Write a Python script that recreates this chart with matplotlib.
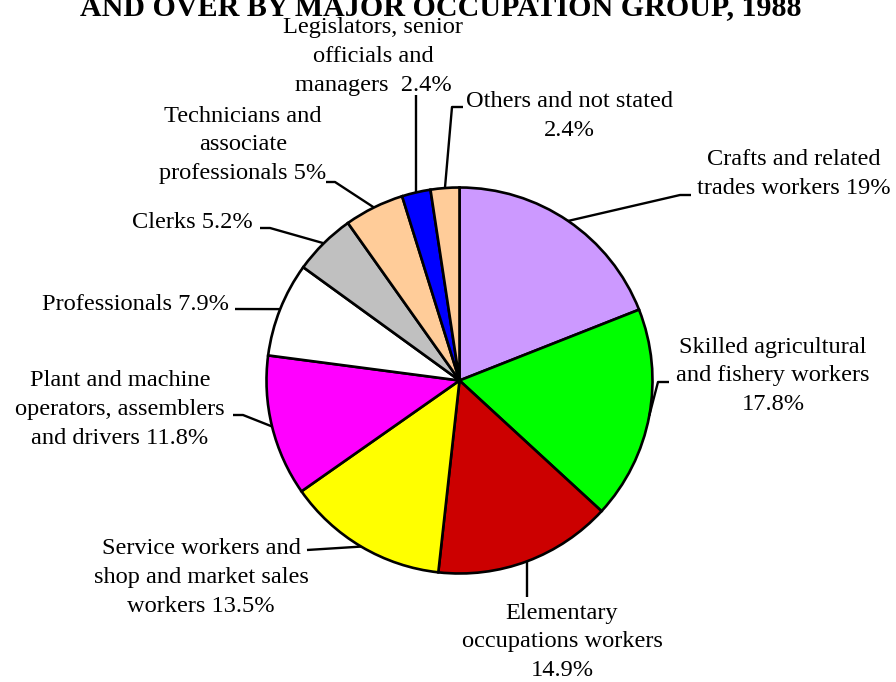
import matplotlib
matplotlib.use("Agg")
import matplotlib.pyplot as plt
import numpy as np

W, H = 896, 682

categories = [
    "Crafts and related\ntrades workers",
    "Skilled agricultural\nand fishery workers\n",
    "Elementary\noccupations workers\n",
    "Service workers and\nshop and market sales\nworkers",
    "Plant and machine\noperators, assemblers\nand drivers",
    "Professionals",
    "Clerks",
    "Technicians and\nassociate\nprofessionals",
    "Legislators, senior\nofficials and\nmanagers ",
    "Others and not stated\n",
]
values = [19, 17.8, 14.9, 13.5, 11.8, 7.9, 5.2, 5, 2.4, 2.4]
colors = ["#CC99FF", "#00FF00", "#CC0000", "#FFFF00", "#FF00FF",
          "#FFFFFF", "#C0C0C0", "#FFCC99", "#0000FF", "#FFCC99"]
title = "AND OVER BY MAJOR OCCUPATION GROUP, 1988"

# layout (pixel coordinates, y downward)
label_pos = [(794, 174), (773, 376), (562, 642), (201, 577), (120, 409),
             (229, 304), (253, 223), (243, 145), (373, 56), (569, 116)]
label_ha = ["center", "center", "center", "center", "center",
            "right", "right", "center", "center", "center"]
elbows = [
    [(680, 195), (691, 195)],
    [(658, 382), (669, 382)],
    [None],
    [(307, 550)],
    [(243, 415), (233, 415)],
    [(235, 309)],
    [(270, 228), (260, 228)],
    [(335, 182), (326, 182)],
    [None],
    [(452, 107), (463, 107)],
]
elbow_end_y = {2: 597, 8: 95}

center_px = (459.5, 380.5)
radius = 193

fig = plt.figure(figsize=(W / 100, H / 100), dpi=100)
ax = fig.add_axes([0, 0, 1, 1])
ax.set_xlim(0, W)
ax.set_ylim(0, H)
ax.set_aspect("equal")
ax.axis("off")

cx, cy = center_px[0], H - center_px[1]
wedges, _ = ax.pie(values, colors=colors, startangle=90, counterclock=False,
                   center=(cx, cy), radius=radius,
                   wedgeprops=dict(edgecolor="black", linewidth=1.9))
ax.set_xlim(0, W)
ax.set_ylim(0, H)

font = "Liberation Serif"
fs = 17.6

for i, (w, cat, v) in enumerate(zip(wedges, categories, values)):
    mid = np.deg2rad((w.theta1 + w.theta2) / 2)
    sx, sy = cx + radius * np.cos(mid), cy + radius * np.sin(mid)
    pts = [(sx, sy)]
    if i in elbow_end_y:
        pts.append((sx, H - elbow_end_y[i]))
    else:
        pts += [(x, H - y) for (x, y) in elbows[i]]
    xs, ys = zip(*pts)
    ax.plot(xs, ys, color="black", lw=1.7, solid_capstyle="butt")
    txt = f"{cat} {v:g}%" if not cat.endswith("\n") else f"{cat}{v:g}%"
    lx, ly = label_pos[i]
    ax.text(lx, H - ly, txt, ha=label_ha[i], va="center", multialignment="center",
            fontsize=fs, family=font, linespacing=1.5)

ax.text(441, H - 15, title, ha="center", va="baseline", fontsize=21.6,
        family=font, fontweight="bold")

fig.savefig("out.png", dpi=100)
